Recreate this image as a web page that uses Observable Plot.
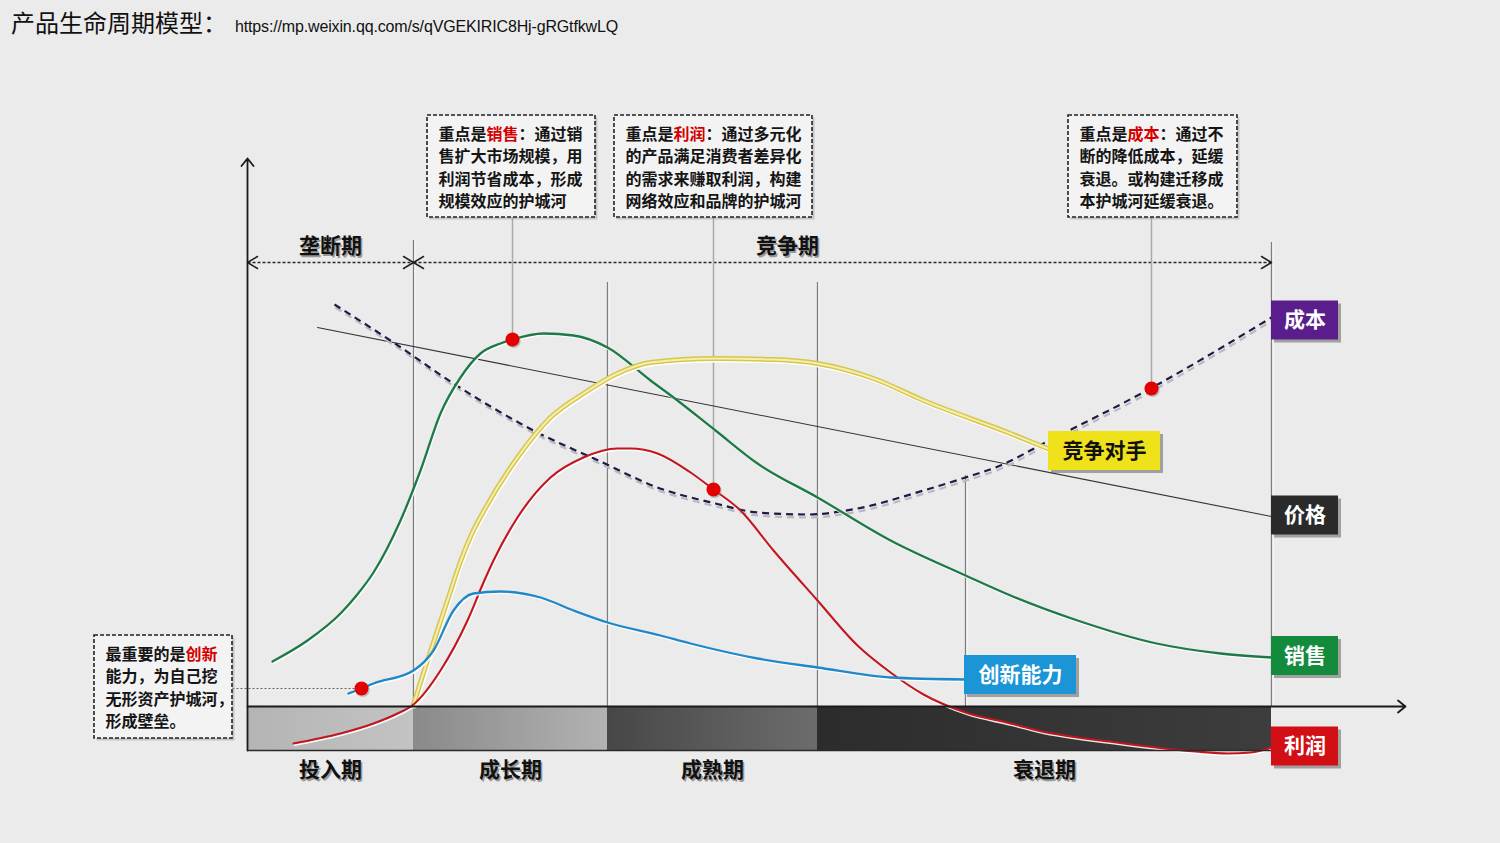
<!DOCTYPE html>
<html><head><meta charset="utf-8">
<script src="https://cdn.jsdelivr.net/npm/d3@7"></script>
<script src="https://cdn.jsdelivr.net/npm/@observablehq/plot@0.6"></script>
<style>
html,body{margin:0;padding:0;background:#ebebeb;}
body{width:1500px;height:843px;overflow:hidden;font-family:"Noto Sans CJK SC",sans-serif;}
#title{height:46px;box-sizing:border-box;padding-left:11px;white-space:nowrap;line-height:44px;color:#111;}
#title .cn{font-size:24px;}
#title .url{font-family:"Liberation Sans",Arial,sans-serif;font-size:16px;color:#111;margin-left:8px;letter-spacing:-0.15px;}
#chart svg{display:block;}
</style></head>
<body>
<div id="title"><span class="cn">产品生命周期模型：</span><span class="url">https://mp.weixin.qq.com/s/qVGEKIRIC8Hj-gRGtfkwLQ</span></div>
<div id="chart"></div>
<script>
// ---------- data (t = time units, v = level units) ----------
const phases = ["投入期", "成长期", "成熟期", "衰退期"];
const phaseBounds = [0, 16.6, 36.0, 57.0, 102.4];

const sales = [[2.5,9.0],[6.0,13.2],[9.3,18.6],[10.9,22.2],[12.6,26.8],[15.3,37.2],[17.3,47.2],[19.3,58.6],[21.3,65.8],[23.3,70.6],[25.3,72.6],[26.5,73.4],[29.6,74.6],[32.6,74.2],[36.0,71.8],[40.3,65.2],[42.6,61.8],[46.8,55.2],[51.0,48.6],[57.0,41.8],[64.3,33.2],[71.8,26.2],[76.3,22.2],[83.0,17.2],[90.9,12.6],[97.3,10.6],[102.4,9.8]];
const rival = [[16.6,0.4],[18.0,9.2],[20.0,21.2],[21.3,29.0],[22.4,34.4],[23.6,39.0],[27.0,49.8],[30.3,57.8],[33.6,62.6],[37.0,66.6],[40.3,68.8],[46.8,69.6],[52.6,69.4],[57.0,68.6],[62.6,65.6],[67.6,61.2],[76.3,54.6],[80.0,51.6]];
const profit = [[4.6,-7.4],[9.3,-5.4],[12.6,-3.4],[15.0,-1.4],[16.6,0.4],[19.3,7.2],[22.0,17.2],[23.6,24.8],[24.6,29.2],[27.0,37.8],[30.3,45.8],[33.6,49.8],[37.0,51.6],[38.3,51.6],[41.0,50.6],[44.3,46.8],[46.6,43.4],[49.3,39.2],[52.6,31.2],[57.0,21.2],[61.0,12.2],[64.3,6.8],[67.6,2.4],[71.8,-1.2],[76.3,-3.4],[79.0,-4.8],[86.9,-7.2],[94.8,-9.0],[98.0,-9.4],[100.3,-9.2],[102.4,-8.2]];
const innovation = [[10.1,2.6],[11.4,3.6],[12.6,4.6],[16.6,7.2],[18.6,11.2],[20.6,19.2],[22.6,22.6],[25.3,23.0],[29.3,21.8],[32.6,19.2],[36.0,16.8],[41.3,14.2],[44.3,12.6],[51.0,9.6],[57.0,7.8],[64.3,5.8],[71.8,5.4]];
const cost = [[8.7,80.4],[14.6,72.8],[20.6,64.6],[28.6,55.2],[35.3,49.0],[41.0,43.8],[46.8,40.6],[51.0,38.8],[56.0,38.4],[61.0,39.6],[67.6,43.2],[71.8,45.8],[75.3,48.2],[79.6,52.6],[90.3,63.6],[102.4,77.8]];
const price = [[7.0,75.8],[102.4,38.0]];
const keyPoints = [[11.4,3.6],[26.5,73.4],[46.6,43.4],[90.4,63.6]];

const dividers = [{t:16.6, top:93.2},{t:36.0, top:84.8},{t:57.0, top:84.8},{t:71.8, top:46.2},{t:102.4, top:92.8}];
const spans = [{label:"垄断期", from:0, to:16.6, labelT:8.3},{label:"竞争期", from:16.6, to:102.4, labelT:54.0}];
const arrowRowV = 88.8, spanLabelV = 92.0;
const barBottom = -8.8, phaseLabelV = -12.8;
const axisTop = 109.6, axisRight = 115.8;

const seriesLabels = [
  {name:"成本", t1:102.4, t2:109.1, v:77.2, fill:"#5a1e8c", color:"#fff"},
  {name:"价格", t1:102.4, t2:109.1, v:38.2, fill:"#2a2a2a", color:"#fff"},
  {name:"销售", t1:102.4, t2:109.1, v:10.1, fill:"#138a3c", color:"#fff"},
  {name:"利润", t1:102.4, t2:109.1, v:-8.0, fill:"#d20f14", color:"#fff"},
  {name:"竞争对手", t1:80.1, t2:91.3, v:51.1, fill:"#efe21b", color:"#111"},
  {name:"创新能力", t1:71.7, t2:82.9, v:6.3, fill:"#1b95d5", color:"#fff"}
];

const callouts = [
  {t1:-15.3, t2:-1.5, v1:-6.4, v2:14.2, red:"创新", lines:["最重要的是创新","能力，为自己挖","无形资产护城河，","形成壁垒。"], link:{t:11.4, v:3.6, horiz:true}},
  {t1:18.0, t2:34.8, v1:97.8, v2:118.2, red:"销售", lines:["重点是销售：通过销","售扩大市场规模，用","利润节省成本，形成","规模效应的护城河"], link:{t:26.5, v:73.4}},
  {t1:36.7, t2:56.5, v1:97.8, v2:118.2, red:"利润", lines:["重点是利润：通过多元化","的产品满足消费者差异化","的需求来赚取利润，构建","网络效应和品牌的护城河"], link:{t:46.6, v:43.4}},
  {t1:82.1, t2:99.0, v1:97.8, v2:118.2, red:"成本", lines:["重点是成本：通过不","断的降低成本，延缓","衰退。或构建迁移成","本护城河延缓衰退。"], link:{t:90.4, v:63.6}}
];

// ---------- derived helpers ----------
const FS = 16, charT = FS / 10, lineStep = 4.52, padT = 1.1, padV = 3.8;
const pts = a => a.map(([t, v]) => ({t, v}));
const calloutPieces = callouts.flatMap(c => {
  const redLine = c.lines.findIndex(l => l.includes(c.red));
  return c.lines.flatMap((ln, li) => {
    const t0 = c.t1 + padT, v = c.v2 - padV - li * lineStep;
    if (li !== redLine) return [{t:t0, v, text:ln, color:"#151515"}];
    const k = ln.indexOf(c.red), e = k + c.red.length;
    return [
      {t:t0, v, text:ln.slice(0, k), color:"#151515"},
      {t:t0 + k * charT, v, text:c.red, color:"#d40000"},
      {t:t0 + e * charT, v, text:ln.slice(e), color:"#151515"}
    ].filter(p => p.text.length);
  });
});
const connectors = callouts.map(c => c.link.horiz
  ? {x1: c.t2, y1: c.link.v, x2: c.link.t, y2: c.link.v, dotted: true}
  : {x1: c.link.t, y1: c.v1, x2: c.link.t, y2: c.link.v, dotted: false});
const chevW = 1.0, chevH = 1.2;
const chevrons = spans.flatMap((s, i) => [
  [{x:s.from+chevW, y:arrowRowV+chevH},{x:s.from, y:arrowRowV},{x:s.from+chevW, y:arrowRowV-chevH}].map(p => ({...p, g:"a"+i})),
  [{x:s.to-chevW, y:arrowRowV+chevH},{x:s.to, y:arrowRowV},{x:s.to-chevW, y:arrowRowV-chevH}].map(p => ({...p, g:"b"+i}))
].flat());
const phaseRows = phases.map((p, i) => ({name:p, x1:phaseBounds[i], x2:phaseBounds[i+1], mid:(phaseBounds[i]+phaseBounds[i+1])/2, i}));
const axisArrows = [{x1:0, y1:barBottom, x2:0, y2:axisTop},{x1:0, y1:0, x2:axisRight, y2:0}];

const curve = "monotone-x";
const lineOpts = (stroke, sw, extra={}) => ({x:"t", y:"v", curve, stroke, strokeWidth:sw, strokeLinecap:"round", ...extra});
const hi = (data, sw) => Plot.line(pts(data), lineOpts("#ffffff", sw, {dx:1, dy:1.6, strokeOpacity:0.9}));

const chart = Plot.plot({
  width: 1500, height: 797, margin: 0,
  x: {domain:[0,102.4], range:[247,1271], axis:null},
  y: {domain:[0,100], range:[660,160], axis:null},
  color: {type:"identity"},
  style: {fontFamily:'"Noto Sans CJK SC", sans-serif', background:"transparent", overflow:"visible"},
  marks: [
    // phase bar
    ...phaseRows.map(p => Plot.rect([p], {x1:"x1", x2:"x2", y1:barBottom, y2:0, fill:`url(#pg${p.i})`})),
    // dividers
    Plot.ruleX(dividers, {x:"t", y1:0, y2:"top", stroke:"#ffffff", strokeWidth:1.2, dx:1.3}),
    Plot.ruleX(dividers, {x:"t", y1:0, y2:"top", stroke:"#7d7d7d", strokeWidth:1.3}),
    // span arrows
    Plot.link(spans, {x1:"from", x2:"to", y1:arrowRowV, y2:arrowRowV, stroke:"#2a2a2a", strokeWidth:1.3, strokeDasharray:"3,2"}),
    Plot.line(chevrons, {x:"x", y:"y", z:"g", stroke:"#222", strokeWidth:1.5}),
    // connectors
    Plot.link(connectors.filter(d => !d.dotted), {x1:"x1", y1:"y1", x2:"x2", y2:"y2", stroke:"#a9a9a9", strokeWidth:1.5}),
    Plot.link(connectors.filter(d => d.dotted), {x1:"x1", y1:"y1", x2:"x2", y2:"y2", stroke:"#666", strokeWidth:1, strokeDasharray:"2,2"}),
    // price
    Plot.line(pts(price), {x:"t", y:"v", stroke:"#333", strokeWidth:1.1}),
    // cost
    Plot.line(pts(cost), lineOpts("#b9b9c4", 2.2, {dx:1, dy:3, strokeDasharray:"7,5", strokeLinecap:"butt"})),
    Plot.line(pts(cost), lineOpts("#221a45", 2.2, {strokeDasharray:"7,5", strokeLinecap:"butt"})),
    // curves
    hi(sales, 2), Plot.line(pts(sales), lineOpts("#1d7a46", 2.3)),
    Plot.line(pts(rival), lineOpts("#ffffff", 5, {dx:1, dy:1.5})),
    Plot.line(pts(rival), lineOpts("#d6c64c", 5)),
    Plot.line(pts(rival), lineOpts("#f5eeb0", 2)),
    hi(profit, 2), Plot.line(pts(profit), lineOpts("#c2161f", 2.1)),
    hi(innovation, 2), Plot.line(pts(innovation), lineOpts("#1f88c8", 2.3)),
    // axes
    Plot.arrow(axisArrows, {x1:"x1", y1:"y1", x2:"x2", y2:"y2", stroke:"#1a1a1a", strokeWidth:1.8, headLength:8, headAngle:78}),
    Plot.link([{a:0, b:phaseBounds[4]}], {x1:"a", x2:"b", y1:barBottom, y2:barBottom, stroke:"#2a2a2a", strokeWidth:1.6}),
    // key dots
    Plot.dot(pts(keyPoints), {x:"t", y:"v", r:7, fill:"#8a8a8a", fillOpacity:0.5, dx:1.2, dy:1.5}),
    Plot.dot(pts(keyPoints), {x:"t", y:"v", r:7, fill:"#e30000"}),
    // callouts
    Plot.rect(callouts, {x1:"t1", x2:"t2", y1:"v1", y2:"v2", fill:"#9a9a9a", fillOpacity:0.45, dx:2.5, dy:2.5}),
    Plot.rect(callouts, {x1:"t1", x2:"t2", y1:"v1", y2:"v2", fill:"#f3f3f3", stroke:"#222", strokeWidth:1.6, strokeDasharray:"4,2"}),
    Plot.text(calloutPieces, {x:"t", y:"v", text:"text", textAnchor:"start", fontSize:FS, fontWeight:"bold", fill:"color"}),
    // series labels
    Plot.rect(seriesLabels, {x1:"t1", x2:"t2", y1:d => d.v - 3.9, y2:d => d.v + 3.9, fill:"#555", fillOpacity:0.5, dx:3, dy:3}),
    Plot.rect(seriesLabels, {x1:"t1", x2:"t2", y1:d => d.v - 3.9, y2:d => d.v + 3.9, fill:"fill"}),
    Plot.text(seriesLabels, {x:d => (d.t1 + d.t2) / 2, y:"v", text:"name", fill:"color", fontSize:21, fontWeight:"bold"}),
    // span + phase labels
    Plot.text(spans, {x:"labelT", y:spanLabelV, text:"label", fontSize:21, fontWeight:"bold", fill:"#999", dx:1.5, dy:1.5}),
    Plot.text(spans, {x:"labelT", y:spanLabelV, text:"label", fontSize:21, fontWeight:"bold", fill:"#111"}),
    Plot.text(phaseRows, {x:"mid", y:phaseLabelV, text:"name", fontSize:21, fontWeight:"bold", fill:"#999", dx:1.5, dy:1.5}),
    Plot.text(phaseRows, {x:"mid", y:phaseLabelV, text:"name", fontSize:21, fontWeight:"bold", fill:"#111"})
  ]
});

// gradients for the phase bar
const defs = d3.select(chart).insert("defs", ":first-child");
const grads = [["#b4b4b4","#c3c3c3"],["#8a8a8a","#b2b2b2"],["#474747","#6c6c6c"],["#2c2c2c","#3d3d3d"]];
grads.forEach((g, i) => {
  const lg = defs.append("linearGradient").attr("id", "pg" + i).attr("x1", 0).attr("x2", 1).attr("y1", 0).attr("y2", 0);
  lg.append("stop").attr("offset", 0).attr("stop-color", g[0]);
  lg.append("stop").attr("offset", 1).attr("stop-color", g[1]);
});
document.getElementById("chart").appendChild(chart);
</script>
</body></html>
